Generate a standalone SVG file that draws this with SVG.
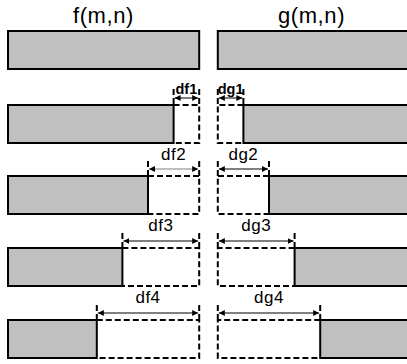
<svg xmlns="http://www.w3.org/2000/svg" width="407" height="364" viewBox="0 0 407 364">
<defs>
<marker id="ah" viewBox="0 0 10 10" refX="10" refY="5" markerWidth="6" markerHeight="6" markerUnits="userSpaceOnUse" orient="auto-start-reverse"><path d="M0,0 L10,5 L0,10 z" fill="#000"/></marker>
</defs>
<style>
.bar{fill:#c0c0c0;stroke:#000;stroke-width:2}
.dash{fill:none;stroke:#000;stroke-width:2;stroke-dasharray:6 3}
.dim{fill:none;stroke:#000;stroke-width:1;marker-start:url(#ah);marker-end:url(#ah)}
.title{font-family:"Liberation Sans",Arial,sans-serif;font-size:22px;text-anchor:middle;letter-spacing:0.6px}
.lbl{font-family:"Liberation Sans",Arial,sans-serif;font-size:17px;text-anchor:middle;letter-spacing:0.5px}
.b{font-weight:bold;font-size:14.5px;letter-spacing:0}
</style>
<rect width="407" height="364" fill="#fff"/>
<text class="title" x="103.5" y="22.5">f(m,n)</text>
<text class="title" x="311.5" y="22.5">g(m,n)</text>
<g id="row1">
<rect class="bar" x="8" y="31" width="191.2" height="38"/>
<rect class="bar" x="217.8" y="31" width="195" height="38"/>
</g>
<g id="row2">
<rect class="bar" x="8" y="105" width="165.6" height="38"/>
<path class="dash" d="M173.6,105 H199.2 V143 H173.6 M199.2,89 V105 M173.6,89 V105"/>
<path class="dash" d="M243.4,105 H217.8 V143 H243.4 M217.8,89 V105 M243.4,89 V105"/>
<rect class="bar" x="243.4" y="105" width="170" height="38"/>
</g>
<g id="row3">
<rect class="bar" x="8" y="176" width="140" height="38"/>
<path class="dash" d="M148,176 H199.2 V214 H148 M199.2,161 V176 M148,161 V176"/>
<path class="dash" d="M269,176 H217.8 V214 H269 M217.8,161 V176 M269,161 V176"/>
<rect class="bar" x="269" y="176" width="145" height="38"/>
</g>
<g id="row4">
<rect class="bar" x="8" y="248" width="114.4" height="38"/>
<path class="dash" d="M122.4,248 H199.2 V286 H122.4 M199.2,233 V248 M122.4,233 V248"/>
<path class="dash" d="M294.6,248 H217.8 V286 H294.6 M217.8,233 V248 M294.6,233 V248"/>
<rect class="bar" x="294.6" y="248" width="120" height="38"/>
</g>
<g id="row5">
<rect class="bar" x="8" y="320" width="88.8" height="38"/>
<path class="dash" d="M96.8,320 H199.2 V358 H96.8 M199.2,305 V320 M96.8,305 V320"/>
<path class="dash" d="M320.2,320 H217.8 V358 H320.2 M217.8,305 V320 M320.2,305 V320"/>
<rect class="bar" x="320.2" y="320" width="95" height="38"/>
</g>
<g id="connectors">
<path class="dim" d="M174.6,98 H198.2"/>
<path class="dim" d="M218.8,98 H242.4"/>
<path class="dim" d="M149,169 H198.2" style="stroke:#808080"/>
<path class="dim" d="M218.8,169 H268"/>
<path class="dim" d="M123.4,241 H198.2"/>
<path class="dim" d="M218.8,241 H293.6"/>
<path class="dim" d="M97.8,313 H198.2"/>
<path class="dim" d="M218.8,313 H319.2"/>
</g>
<g id="labels">
<text class="lbl b" x="186.4" y="94">df1</text>
<text class="lbl b" x="230.6" y="94">dg1</text>
<text class="lbl" x="173.6" y="159.5">df2</text>
<text class="lbl" x="243.4" y="159.5">dg2</text>
<text class="lbl" x="160.8" y="230.5">df3</text>
<text class="lbl" x="256.2" y="230.5">dg3</text>
<text class="lbl" x="148" y="303">df4</text>
<text class="lbl" x="269" y="303">dg4</text>
</g>
</svg>
